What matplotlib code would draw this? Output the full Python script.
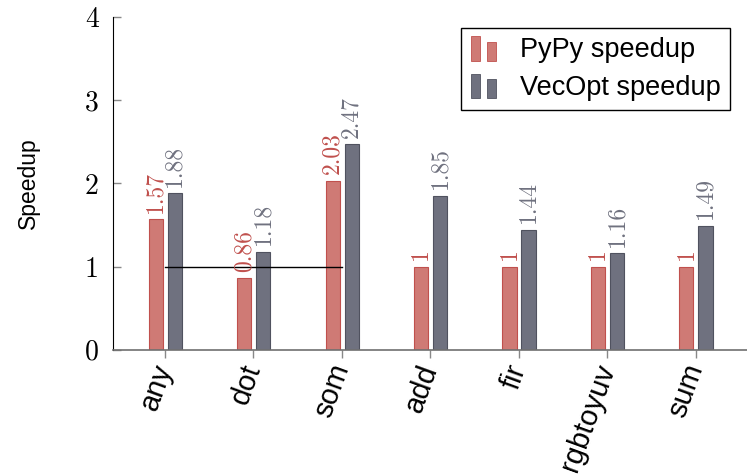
import numpy as np
import matplotlib.pyplot as plt
from matplotlib.patches import Rectangle
from matplotlib.legend_handler import HandlerBase

benchmarks = ["any", "dot", "som", "add", "fir", "rgbtoyuv", "sum"]
pypy = [1.57, 0.86, 2.03, 1, 1, 1, 1]
vecopt = [1.88, 1.18, 2.47, 1.85, 1.44, 1.16, 1.49]
pypy_labels = ["1.57", "0.86", "2.03", "1", "1", "1", "1"]
vecopt_labels = ["1.88", "1.18", "2.47", "1.85", "1.44", "1.16", "1.49"]

red_fill, red_edge = "#cf7a75", "#c0504d"
gray_fill, gray_edge = "#6f717f", "#50525f"


class BarHandler(HandlerBase):
    # pgfplots style ybar legend icon: two small bars
    def create_artists(self, legend, orig, xd, yd, w, h, fontsize, trans):
        p = orig.patches[0]
        fc = p.get_facecolor()
        ec = p.get_edgecolor()
        bw = w * 0.32
        r1 = Rectangle((xd + w * 0.0, yd - h * 0.2), bw, h * 1.3, fc=fc, ec=ec, lw=0.6, transform=trans)
        r2 = Rectangle((xd + w * 0.6, yd - h * 0.2), bw, h * 1.0, fc=fc, ec=ec, lw=0.6, transform=trans)
        return [r1, r2]


fig = plt.figure(figsize=(7.47, 4.74), dpi=100)
ax = fig.add_axes([0.151, 0.262, 0.849, 0.702])

x = np.arange(len(benchmarks))
w = 0.16
b1 = ax.bar(x - 0.105, pypy, w, color=red_fill, edgecolor=red_edge, lw=0.8, label="PyPy speedup")
b2 = ax.bar(x + 0.11, vecopt, w, color=gray_fill, edgecolor=gray_edge, lw=0.8, label="VecOpt speedup")

for i in range(len(benchmarks)):
    ax.text(x[i] - 0.105, pypy[i] + 0.08, pypy_labels[i], rotation=90, ha="center", va="bottom",
            color=red_edge, fontsize=17, family="cmr10")
    ax.text(x[i] + 0.11, vecopt[i] + 0.08, vecopt_labels[i], rotation=90, ha="center", va="bottom",
            color=gray_fill, fontsize=17, family="cmr10")

ax.plot([0, 2], [1, 1], color="black", lw=1)

ax.set_xlim(-0.59, 6.58)
ax.set_ylim(0, 4)
ax.set_yticks([0, 1, 2, 3, 4])
ax.set_yticklabels(["0", "1", "2", "3", "4"], family="cmr10", fontsize=20)
ax.set_xticks(x)
ax.set_xticklabels(benchmarks, rotation=70, ha="right", va="center", rotation_mode="anchor",
                   fontsize=21, family="Liberation Sans")
ax.tick_params(axis="y", direction="in", color="#888888", length=6, width=1, pad=10)
ax.tick_params(axis="x", direction="out", color="#888888", length=6, width=1, pad=5)

ax.spines["top"].set_visible(False)
ax.spines["right"].set_visible(False)
ax.spines["left"].set_color("black")
ax.spines["bottom"].set_color("#707070")
ax.spines["bottom"].set_linewidth(1.2)

ax.set_ylabel("Speedup", fontsize=16.5, family="Liberation Sans", labelpad=32)

leg = ax.legend(handles=[b1, b2], labels=["PyPy speedup", "VecOpt speedup"],
                handler_map={b1: BarHandler(), b2: BarHandler()},
                loc="upper right", bbox_to_anchor=(0.973, 0.968),
                prop={"family": "Liberation Sans", "size": 19.5}, frameon=True, fancybox=False,
                edgecolor="black", framealpha=1, borderpad=0.35, handlelength=1.0,
                handletextpad=0.8, labelspacing=0.42, borderaxespad=0)
leg.get_frame().set_linewidth(1)

plt.savefig("out.png", dpi=100)
